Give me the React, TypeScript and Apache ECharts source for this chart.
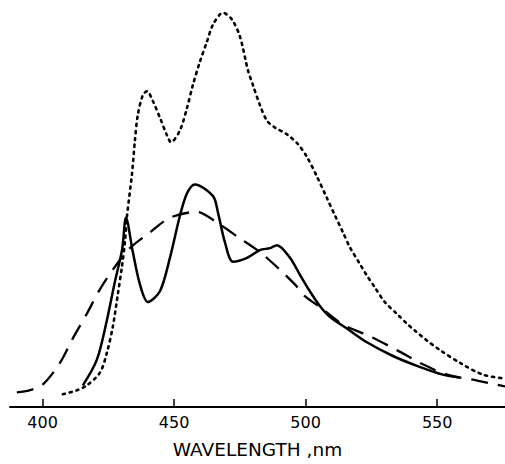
import React, { useEffect, useRef } from "react";
import * as echarts from "echarts";

// wavelength (nm), relative intensity (arbitrary units)
const dottedCurve: [number, number][] = [
  [407.7, 13], [413.0, 17], [416.8, 22], [421.8, 35], [424.4, 55], [426.7, 82],
  [428.6, 115], [430.1, 142], [431.3, 168], [432.1, 195], [434.0, 238], [435.1, 272],
  [436.2, 298], [438.1, 318], [439.7, 322], [441.9, 312], [444.6, 295], [447.3, 277],
  [448.8, 270], [452.2, 282], [454.9, 305], [457.1, 328], [459.8, 352], [462.4, 372],
  [464.8, 390], [468.6, 402], [472.0, 395], [475.0, 378], [478.1, 343], [480.0, 328],
  [482.6, 308], [485.3, 292], [488.3, 285], [492.9, 278], [497.1, 268], [500.5, 255],
  [504.3, 235], [508.1, 213], [511.2, 195], [514.2, 178], [516.8, 163], [520.6, 146],
  [523.3, 134], [526.3, 122], [530.1, 107], [534.7, 95], [538.5, 85], [541.5, 78],
  [546.0, 68], [551.1, 58], [558.7, 45], [567.4, 33], [575.8, 29],
];

const solidCurve: [number, number][] = [
  [415.3, 22], [420.6, 48], [424.4, 88], [427.5, 128], [430.2, 160], [431.7, 193],
  [434.3, 158], [437.0, 125], [440.0, 107], [444.6, 118], [448.4, 152], [452.2, 195],
  [454.9, 218], [457.9, 227], [464.8, 215], [466.7, 198], [469.3, 168], [472.4, 148],
  [477.7, 152], [482.6, 160], [486.5, 162], [489.1, 165], [494.1, 152], [497.8, 135],
  [501.6, 118], [505.4, 103], [509.2, 92], [515.7, 80], [523.3, 66], [533.2, 52],
  [542.3, 42], [552.2, 33], [558.7, 30],
];

const dashedCurve: [number, number][] = [
  [390.2, 15], [395.0, 17], [400.1, 23], [406.6, 45], [411.5, 70], [416.8, 95],
  [421.8, 120], [427.5, 143], [433.2, 162], [440.8, 178], [448.4, 193], [458.7, 199],
  [466.3, 188], [475.0, 172], [482.6, 158], [490.2, 140], [495.9, 125], [499.7, 113],
  [505.4, 102], [514.2, 84], [524.5, 72], [534.7, 58], [543.5, 45], [553.8, 33],
  [565.2, 27], [575.8, 21],
];

const xMin = 387.6;
const xMax = 575.8;
const xTicks = [400, 450, 500, 550];
const xAxisTitle = "WAVELENGTH ,nm";

export default function App() {
  const ref = useRef<HTMLDivElement>(null);
  useEffect(() => {
    if (!ref.current) return;
    const chart = echarts.init(ref.current, undefined, { renderer: "svg" });
    chart.setOption({
      animation: false,
      backgroundColor: "#ffffff",
      grid: { left: 10, right: 0, top: 0, bottom: 49 },
      xAxis: {
        type: "value",
        min: xMin,
        max: xMax,
        name: xAxisTitle,
        nameLocation: "middle",
        nameGap: 33,
        nameTextStyle: { color: "#000", fontSize: 18.5, fontFamily: "DejaVu Sans" },
        axisLine: { show: true, lineStyle: { color: "#000", width: 2 } },
        axisTick: {
          show: true,
          inside: true,
          length: 8,
          lineStyle: { color: "#000", width: 1.5 },
          customValues: xTicks,
        },
        axisLabel: {
          show: true,
          margin: 7,
          color: "#000",
          fontSize: 16,
          fontFamily: "DejaVu Sans",
          customValues: xTicks,
        },
        splitLine: { show: false },
      },
      yAxis: {
        type: "value",
        min: 0,
        max: 415,
        show: false,
        splitLine: { show: false },
      },
      series: [
        {
          type: "line",
          data: dottedCurve,
          smooth: 0.3,
          symbol: "none",
          lineStyle: { color: "#000", width: 2.6, type: [2.2, 4.8], cap: "round" },
        },
        {
          type: "line",
          data: solidCurve,
          smooth: 0.3,
          symbol: "none",
          lineStyle: { color: "#000", width: 2.5 },
        },
        {
          type: "line",
          data: dashedCurve,
          smooth: 0.3,
          symbol: "none",
          lineStyle: { color: "#000", width: 2.3, type: [17, 10] },
        },
      ],
    });
    return () => chart.dispose();
  }, []);
  return (
    <div
      ref={ref}
      style={{ position: "absolute", left: 0, top: 0, width: 505, height: 464 }}
    />
  );
}
